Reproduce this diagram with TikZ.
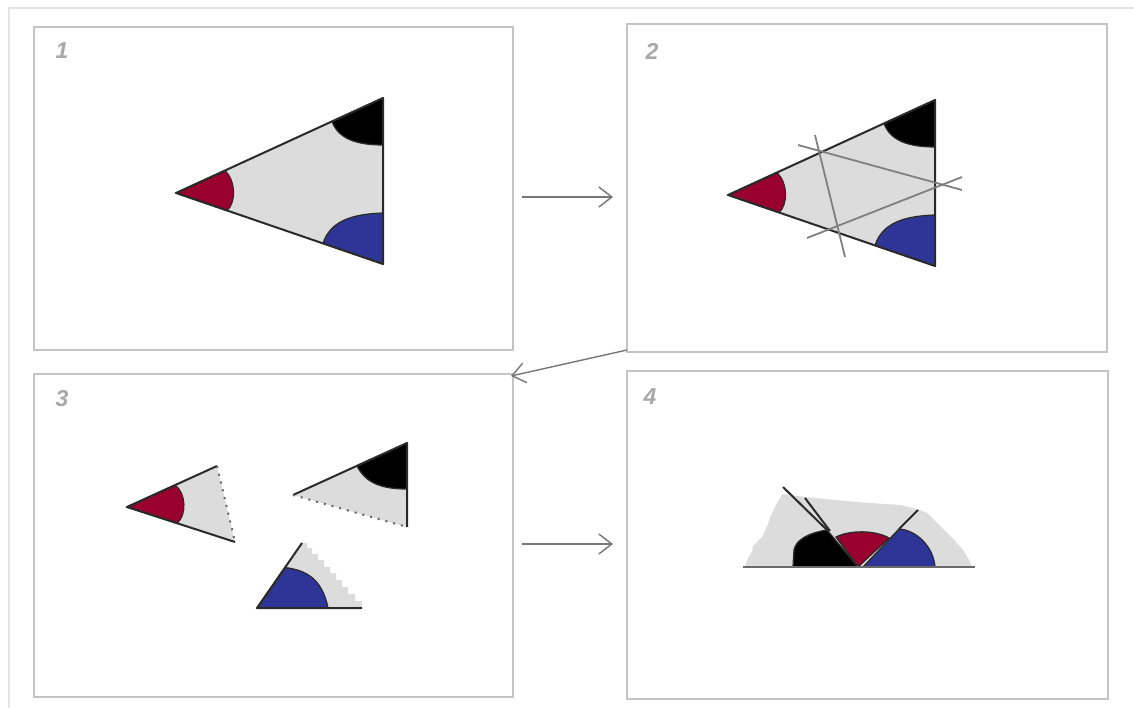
\documentclass[tikz,border=0pt]{standalone}
\usepackage{fontspec}
\setsansfont{Liberation Sans}
\usetikzlibrary{arrows.meta,calc}
\definecolor{pgray}{HTML}{DCDCDC}
\definecolor{pred}{HTML}{99002F}
\definecolor{pblue}{HTML}{2E3596}
\definecolor{edgec}{HTML}{2A2A2A}
\definecolor{framec}{HTML}{C4C4C4}
\definecolor{outerc}{HTML}{E4E4E4}
\definecolor{arrc}{HTML}{777777}
\definecolor{cutc}{HTML}{808080}
\definecolor{lblc}{HTML}{A8A8A8}
\newcommand\mytripieces{%
  \fill[pgray] (176,193) -- (383,98) -- (383,264) -- cycle;
  \filldraw[fill=pred, draw=edgec, line width=1.2pt] (176,193) -- (225,170.5) .. controls (236,181) and (236,203) .. (227,210.5) -- cycle;
  \filldraw[fill=black, draw=edgec, line width=1.2pt] (383,98) -- (332,121.4) .. controls (338,138) and (355,145) .. (383,145) -- cycle;
  \filldraw[fill=pblue, draw=edgec, line width=1.2pt] (383,264) -- (323,243.4) .. controls (330,222) and (350,214) .. (383,213) -- cycle;
  \draw[edgeline] (176,193) -- (383,98) -- (383,264) -- cycle;
}
\begin{document}
\begin{tikzpicture}[x=1pt,y=-1pt,
  panel/.style={draw=framec, line width=1.5pt, fill=white, inner sep=0pt, outer sep=0pt},
  lbl/.style={font=\sffamily\bfseries\itshape\fontsize{23}{26}\selectfont, text=lblc, inner sep=0pt},
  arr/.style={draw=arrc, line width=1.4pt, -{Straight Barb[length=13pt,width=20pt,line width=1.4pt]}},
  edgeline/.style={draw=edgec, line width=2pt, line join=round},
  colreg/.style={draw=edgec, line width=1.3pt},
  helpline/.style={draw=cutc, line width=1.8pt},
  ragged/.style={draw=cutc!80!black, line width=2pt, dash pattern=on 2pt off 6pt}]
\useasboundingbox (0,0) rectangle (1134,708);
\fill[white] (0,0) rectangle (1134,708);
% outer frame lines
\draw[outerc, line width=1.5pt] (9,708) -- (9,8) -- (1134,8);
% panels
\node[panel, minimum width=479pt, minimum height=323pt] (p1) at (273.5,188.5) {};
\node[panel, minimum width=480pt, minimum height=328pt] (p2) at (867,188) {};
\node[panel, minimum width=479pt, minimum height=323pt] (p3) at (273.5,535.5) {};
\node[panel, minimum width=481pt, minimum height=328pt] (p4) at (867.5,535) {};
\node[lbl] (l1) at (62,51) {1};
\node[lbl] (l2) at (652,51) {2};
\node[lbl] (l3) at (62,399) {3};
\node[lbl] (l4) at (650,397) {4};
% arrows
\coordinate (a1s) at (522,197); \coordinate (a1e) at (613,197);
\coordinate (a2s) at (627,350); \coordinate (a2e) at (511,376);
\coordinate (a3s) at (522,544); \coordinate (a3e) at (613,544);
\draw[arr] (a1s) -- (a1e);
\draw[arr] (a2s) -- (a2e);
\draw[arr] (a3s) -- (a3e);
% panel 1
\mytripieces
% panel 2
\begin{scope}[shift={(552,2)}]
\mytripieces
\end{scope}
\draw[helpline] (815,135) -- (845,257);
\draw[helpline] (798,145) -- (962,190);
\draw[helpline] (807,238) -- (962,177);
% panel 3: red piece
\fill[pgray] (127,507) -- (217,466) -- (235,542) -- cycle;
\filldraw[fill=pred, colreg] (127,507) -- (175,485.1) .. controls (186,493) and (187,515) .. (177,523.2) -- cycle;
\draw[edgeline] (217,466) -- (127,507) -- (235,542);
\draw[ragged] (217,466) -- (235,542);
% panel 3: black piece
\fill[pgray] (407,443) -- (293,495) -- (407,527) -- cycle;
\filldraw[fill=black, colreg] (407,443) -- (357,465.8) .. controls (365,482) and (380,489) .. (407,489) -- cycle;
\draw[edgeline] (293,495) -- (407,443) -- (407,527);
\draw[ragged] (293,495) -- (407,527);
% panel 3: blue piece
\fill[pgray] (257,608) -- (302,543) -| (307,548) -| (312,554) -| (318,560) -| (324,567) -| (330,573) -| (336,580) -| (342,587) -| (348,594) -| (355,601) -| (362,608) -- cycle;
\filldraw[fill=pblue, colreg] (257,608) -- (285,567.6) .. controls (305,570) and (322,578) .. (328,608) -- cycle;
\draw[edgeline] (302,543) -- (257,608) -- (362,608);
% panel 4
\fill[pgray] (745,566) -- (748,558) -- (752,552) -- (753,546) -- (758,541) -- (762,537) -- (765,531) -- (768,524) -- (770,517) -- (773,511) -- (776,505) -- (779,500) -- (783,494) -- (805,497) -- (835,500) -- (870,503) -- (900,505) -- (917,509) -- (927,513) -- (933,519) -- (940,526) -- (947,533) -- (955,541) -- (963,550) -- (968,558) -- (972,566) -- cycle;
\filldraw[fill=black, colreg] (793,567) -- (794,550) .. controls (796,540) and (808,533) .. (827,530) -- (858,567) -- cycle;
\filldraw[fill=pblue, colreg] (863,567) -- (899,529) .. controls (915,530) and (933,545) .. (935,567) -- cycle;
\filldraw[fill=pred, colreg] (858,567) -- (836,537) .. controls (850,530) and (875,530) .. (889,538) -- cycle;
\draw[edgeline] (783,487) -- (828,531);
\draw[edgeline] (805,498) -- (830,531);
\draw[edgeline] (899,529) -- (918,510);
\draw[draw=edgec!70, line width=2pt] (743,567) -- (975,567);
\end{tikzpicture}
\end{document}
